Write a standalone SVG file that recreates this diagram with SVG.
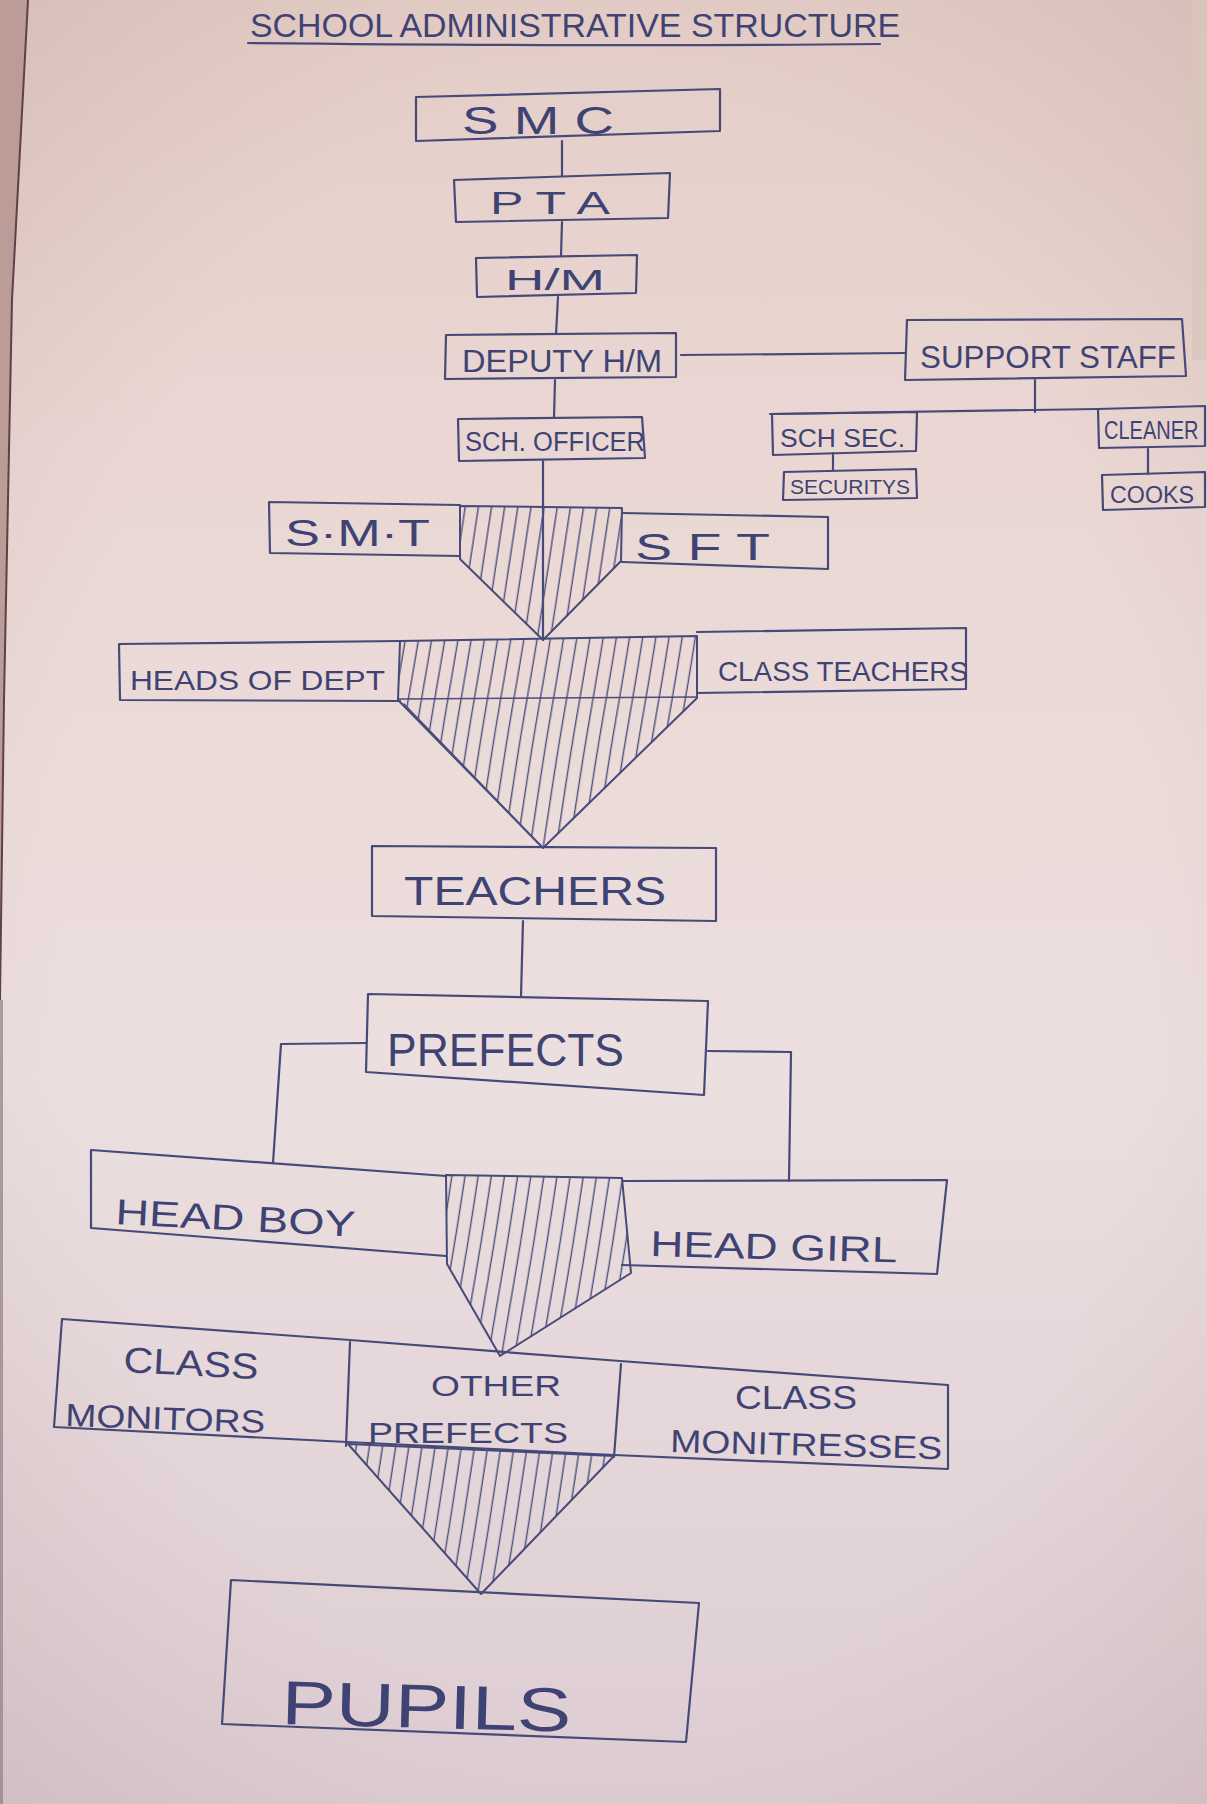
<svg xmlns="http://www.w3.org/2000/svg" width="1207" height="1804" viewBox="0 0 1207 1804">
  <defs>
    <linearGradient id="paper" x1="0" y1="0" x2="0" y2="1">
      <stop offset="0" stop-color="#e4cdc7"/>
      <stop offset="0.25" stop-color="#ead7d3"/>
      <stop offset="0.6" stop-color="#ecdfdf"/>
      <stop offset="1" stop-color="#ddcdd3"/>
    </linearGradient>
    <radialGradient id="vignette" cx="0.5" cy="0.5" r="0.75">
      <stop offset="0.6" stop-color="#b08a88" stop-opacity="0"/>
      <stop offset="1" stop-color="#a07c7a" stop-opacity="0.22"/>
    </radialGradient>
    <pattern id="hatch" patternUnits="userSpaceOnUse" width="13" height="300" patternTransform="rotate(9)">
      <path d="M6,0 C4,100 8,200 6,300" fill="none" stroke="#4b4e7c" stroke-width="1.4" stroke-linecap="round"/>
    </pattern>
    <style>
      .ink { fill: none; stroke: #474a78; stroke-width: 2.2; stroke-linejoin: round; stroke-linecap: round; }
      .thin { fill: none; stroke: #4b4e7c; stroke-width: 1.6; stroke-linecap: round; }
      .hatched { fill: url(#hatch); stroke: #474a78; stroke-width: 2; stroke-linejoin: round; }
      .lbl { font-family: "Liberation Sans", "DejaVu Sans", sans-serif; fill: #3f4373; }
    </style>
  </defs>

  <!-- paper -->
  <g id="paper-sheet">
    <rect x="0" y="0" width="1207" height="1804" fill="url(#paper)"/>
    <rect x="0" y="0" width="1207" height="1804" fill="url(#vignette)"/>
    <path d="M0,0 L28,0 L12,300 L4,700 L0,1000 Z" fill="#bc9c97"/>
    <path d="M28,0 L12,300 L4,700 L0,1000" fill="none" stroke="#5e4048" stroke-width="2"/>
    <rect x="0" y="1000" width="3" height="804" fill="#8f7f88" opacity="0.7"/>
    <rect x="1192" y="0" width="15" height="360" fill="#d8c5bb" opacity="0.8"/>
  </g>

  <!-- title -->
  <g id="title">
    <text class="lbl" x="250" y="37" font-size="34" textLength="650" lengthAdjust="spacingAndGlyphs">SCHOOL ADMINISTRATIVE STRUCTURE</text>
    <path class="ink" d="M248,43 C450,45 700,46 880,44"/>
  </g>

  <!-- connectors -->
  <g id="connectors">
    <path class="ink" d="M562,141 L562,176"/>
    <path class="ink" d="M562,222 L561,256"/>
    <path class="ink" d="M558,297 L556,334"/>
    <path class="ink" d="M555,380 L554,418"/>
    <path class="ink" d="M543,461 L543,640"/>
    <path class="ink" d="M681,355 L905,353"/>
    <path class="ink" d="M1035,380 L1035,412"/>
    <path class="ink" d="M770,414 L1098,409"/>
    <path class="ink" d="M833,453 L833,470"/>
    <path class="ink" d="M1148,449 L1148,474"/>
    <path class="ink" d="M523,921 L521,996"/>
    <path class="ink" d="M366,1043 L281,1044 L273,1163"/>
    <path class="ink" d="M708,1051 L791,1052 L789,1181"/>
  </g>

  <g id="smc">
    <path class="ink" d="M416,97 L720,89 L720,130 M720,131 L416,141 L416,97"/>
    <text class="lbl" x="462" y="134" font-size="38" textLength="152" lengthAdjust="spacingAndGlyphs">S M C</text>
  </g>

  <g id="pta">
    <path class="ink" d="M454,180 L670,173 L668,218 L456,222 Z"/>
    <text class="lbl" x="490" y="214" font-size="32" textLength="120" lengthAdjust="spacingAndGlyphs">P T A</text>
  </g>

  <g id="hm">
    <path class="ink" d="M476,258 L637,255 L636,293 L477,297 Z"/>
    <text class="lbl" x="505" y="290" font-size="30" textLength="100" lengthAdjust="spacingAndGlyphs">H/M</text>
  </g>

  <g id="deputy-hm">
    <path class="ink" d="M446,335 L676,333 L676,377 L445,379 Z"/>
    <text class="lbl" x="462" y="372" font-size="32" textLength="200" lengthAdjust="spacingAndGlyphs">DEPUTY H/M</text>
  </g>

  <g id="support-staff">
    <path class="ink" d="M907,320 L1182,319 L1186,376 L905,380 Z"/>
    <text class="lbl" x="920" y="368" font-size="32" textLength="256" lengthAdjust="spacingAndGlyphs">SUPPORT STAFF</text>
  </g>

  <g id="sch-sec">
    <path class="ink" d="M772,414 L917,412 L916,451 L773,455 Z"/>
    <text class="lbl" x="780" y="447" font-size="26" textLength="125" lengthAdjust="spacingAndGlyphs">SCH SEC.</text>
  </g>

  <g id="security">
    <path class="ink" d="M784,472 L916,469 L917,498 L783,500 Z"/>
    <text class="lbl" x="790" y="494" font-size="20" textLength="120" lengthAdjust="spacingAndGlyphs">SECURITYS</text>
  </g>

  <g id="cleaner">
    <path class="ink" d="M1205,406 L1098,409 L1099,448 L1205,446 Z"/>
    <text class="lbl" x="0" y="0" font-size="20" transform="translate(1104 439) scale(1 1.25)">CLEANER</text>
  </g>

  <g id="cooks">
    <path class="ink" d="M1205,472 L1102,475 L1103,510 L1205,507 Z"/>
    <text class="lbl" x="1110" y="503" font-size="24" textLength="84" lengthAdjust="spacingAndGlyphs">COOKS</text>
  </g>

  <g id="sch-officer">
    <path class="ink" d="M458,419 L642,417 L645,458 L459,461 Z"/>
    <text class="lbl" x="465" y="451" font-size="27" textLength="180" lengthAdjust="spacingAndGlyphs">SCH. OFFICER</text>
  </g>

  <g id="smt">
    <path class="ink" d="M460,505 L269,502 L270,553 L460,556"/>
    <text class="lbl" x="285" y="546" font-size="36" textLength="145" lengthAdjust="spacingAndGlyphs">S·M·T</text>
  </g>

  <g id="funnel-1">
    <path class="hatched" d="M460,506 L622,508 L621,561 L543,640 L460,559 Z"/>
  </g>

  <g id="sft">
    <path class="ink" d="M622,513 L828,517 L828,569 L622,562"/>
    <text class="lbl" x="635" y="560" font-size="36" textLength="135" lengthAdjust="spacingAndGlyphs">S F T</text>
  </g>

  <g id="heads-of-dept">
    <path class="ink" d="M400,641 L119,644 L120,700 L400,701"/>
    <text class="lbl" x="130" y="690" font-size="28" textLength="255" lengthAdjust="spacingAndGlyphs">HEADS OF DEPT</text>
  </g>

  <g id="funnel-2">
    <path class="hatched" d="M400,641 L697,636 L697,698 L543,848 L398,700 Z"/>
    <path class="thin" d="M398,699 L697,697"/>
    <path class="thin" d="M404,704 L538,843"/>
  </g>

  <g id="class-teachers">
    <path class="ink" d="M697,632 L966,628 L966,689 L697,693"/>
    <text class="lbl" x="718" y="681" font-size="28" textLength="250" lengthAdjust="spacingAndGlyphs">CLASS TEACHERS</text>
  </g>

  <g id="teachers">
    <path class="ink" d="M372,846 L716,848 L716,921 L372,916 Z"/>
    <text class="lbl" x="404" y="905" font-size="40" textLength="262" lengthAdjust="spacingAndGlyphs">TEACHERS</text>
  </g>

  <g id="prefects">
    <path class="ink" d="M368,994 L708,1001 L704,1095 L366,1072 Z"/>
    <text class="lbl" x="387" y="1066" font-size="46" textLength="237" lengthAdjust="spacingAndGlyphs">PREFECTS</text>
  </g>

  <g id="head-boy">
    <path class="ink" d="M446,1176 L91,1150 L91,1228 L446,1256"/>
    <text class="lbl" x="115" y="1224" font-size="36" textLength="240" lengthAdjust="spacingAndGlyphs" transform="rotate(3 115 1224)">HEAD BOY</text>
  </g>

  <g id="funnel-3">
    <path class="hatched" d="M446,1175 L622,1178 L631,1273 L500,1356 L447,1264 Z"/>
  </g>

  <g id="head-girl">
    <path class="ink" d="M623,1181 L947,1180 L937,1274 L622,1265"/>
    <text class="lbl" x="650" y="1256" font-size="36" textLength="247" lengthAdjust="spacingAndGlyphs" transform="rotate(1.5 650 1256)">HEAD GIRL</text>
  </g>

  <g id="class-monitors">
    <path class="ink" d="M350,1340 L62,1319 L54,1427 L347,1442"/>
    <path class="ink" d="M350,1342 L346,1446"/>
    <text class="lbl" x="123" y="1372" font-size="36" textLength="135" lengthAdjust="spacingAndGlyphs" transform="rotate(3 123 1372)">CLASS</text>
    <text class="lbl" x="65" y="1426" font-size="32" textLength="200" lengthAdjust="spacingAndGlyphs" transform="rotate(2 65 1426)">MONITORS</text>
  </g>

  <g id="other-prefects">
    <path class="ink" d="M350,1340 L620,1361 M347,1442 L614,1455"/>
    <path class="ink" d="M621,1364 L614,1457"/>
    <text class="lbl" x="431" y="1396" font-size="30" textLength="130" lengthAdjust="spacingAndGlyphs">OTHER</text>
    <text class="lbl" x="368" y="1443" font-size="30" textLength="200" lengthAdjust="spacingAndGlyphs">PREFECTS</text>
  </g>

  <g id="class-monitresses">
    <path class="ink" d="M620,1361 L948,1385 L948,1469 L614,1455"/>
    <text class="lbl" x="735" y="1409" font-size="34" textLength="122" lengthAdjust="spacingAndGlyphs">CLASS</text>
    <text class="lbl" x="670" y="1452" font-size="32" textLength="272" lengthAdjust="spacingAndGlyphs" transform="rotate(1.5 670 1452)">MONITRESSES</text>
  </g>

  <g id="funnel-4">
    <path class="hatched" d="M348,1444 L614,1456 L481,1594 Z"/>
  </g>

  <g id="pupils">
    <path class="ink" d="M231,1580 L699,1603 L686,1742 L222,1724 Z"/>
    <text class="lbl" x="281" y="1724" font-size="62" textLength="290" lengthAdjust="spacingAndGlyphs" transform="rotate(1.5 281 1724)">PUPILS</text>
  </g>
</svg>
